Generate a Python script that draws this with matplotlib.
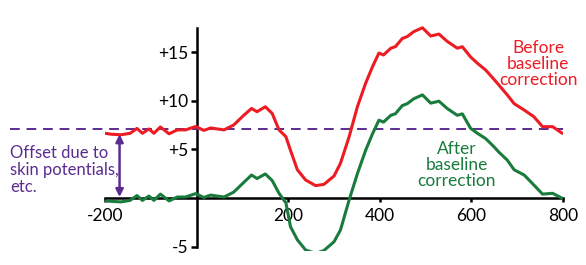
import matplotlib.pyplot as plt

# time (ms) and amplitude (uV)
time_ms = [-200, -185, -165, -145, -130, -118, -104, -93, -79, -60, -42, -24, -2, 16, 31,
           45, 60, 81, 103, 120, 132, 150, 165, 180, 195, 205, 220, 238, 260, 278, 300,
           314, 333, 351, 369, 384, 398, 408, 424, 434, 449, 460, 474, 493, 511, 529, 547,
           569, 580, 598, 613, 631, 649, 660, 678, 693, 715, 736, 755, 777, 798]
before = [6.65, 6.55, 6.5, 6.65, 7.15, 6.65, 7.1, 6.65, 7.3, 6.6, 7.0, 7.0, 7.35, 6.95, 7.2,
          7.1, 7.0, 7.5, 8.5, 9.2, 8.87, 9.38, 8.7, 7.0, 6.3, 4.9, 2.9, 1.85, 1.27, 1.4, 2.26,
          3.56, 6.3, 9.38, 11.8, 13.5, 14.9, 14.7, 15.4, 15.56, 16.4, 16.6, 17.1, 17.5, 16.65,
          16.85, 16.1, 15.4, 15.55, 14.5, 13.85, 13.15, 12.2, 11.6, 10.6, 9.7, 9.04, 8.36,
          7.33, 7.33, 6.65]
after = [-0.3, -0.35, -0.4, -0.25, 0.25, -0.25, 0.2, -0.25, 0.4, -0.3, 0.1, 0.1, 0.45, 0.05,
         0.3, 0.2, 0.1, 0.6, 1.6, 2.36, 2.0, 2.47, 1.8, 0.48, -0.5, -2.95, -4.3, -5.35, -5.7,
         -5.4, -4.5, -3.3, -0.2, 2.5, 4.9, 6.6, 8.0, 7.8, 8.5, 8.66, 9.5, 9.7, 10.2, 10.6,
         9.75, 9.95, 9.2, 8.5, 8.65, 7.16, 6.65, 6.1, 5.27, 4.7, 3.9, 2.9, 2.36, 1.34, 0.4,
         0.48, -0.03]
offset_level = 7.1
x_ticks = [-200, 200, 400, 600, 800]
y_ticks = [15, 10, 5, -5]
y_tick_labels = ['+15', '+10', '+5', '-5']

RED = '#ed1c24'
GREEN = '#197b3c'
PURPLE = '#5b2c8f'

plt.rcParams['font.family'] = ['Lato', 'DejaVu Sans']
plt.rcParams['axes.unicode_minus'] = False

fig = plt.figure(figsize=(5.86, 2.65), dpi=100)
ax = fig.add_axes([0.179, 0.051, 0.782, 0.8626])
ax.set_xlim(-200, 800)
ax.set_ylim(-5.5, 18)

ax.plot(time_ms, before, color=RED, lw=2.2, solid_capstyle='round',
        solid_joinstyle='round', zorder=3)
ax.plot(time_ms, after, color=GREEN, lw=2.2, solid_capstyle='round',
        solid_joinstyle='round', zorder=3)

# dashed offset level, runs out past the left of the axes
ax.plot([-406, 800], [offset_level, offset_level], color=PURPLE, lw=1.4,
        dashes=(5, 3.5), clip_on=False, zorder=2)

ax.annotate('', xy=(-168, 6.55), xytext=(-168, 0.1),
            arrowprops=dict(arrowstyle='<|-|>', color=PURPLE, lw=1.8,
                            mutation_scale=11, shrinkA=0, shrinkB=0))

for s in ['top', 'right']:
    ax.spines[s].set_visible(False)
ax.spines['left'].set_position(('data', 0))
ax.spines['bottom'].set_position(('data', 0))
ax.spines['left'].set_bounds(-5, 17.5)
ax.spines['bottom'].set_bounds(-200, 800)
for s in ['left', 'bottom']:
    ax.spines[s].set_linewidth(1.8)
    ax.spines[s].set_zorder(1)

ax.set_xticks(x_ticks)
ax.set_yticks(y_ticks)
ax.set_yticklabels(y_tick_labels)
ax.tick_params(axis='y', direction='out', length=4, width=1.8, pad=2, labelsize=12.5)
ax.tick_params(axis='x', direction='out', length=3, width=1.8, pad=4, labelsize=12.5)

fig.text(10 / 586, 1 - 170 / 265, 'Offset due to\nskin potentials,\netc.', color=PURPLE,
         fontsize=12, ha='left', va='center', linespacing=1.05)
fig.text(538 / 586, 1 - 64 / 265, 'Before\nbaseline\ncorrection', color=RED,
         fontsize=12.5, ha='center', va='center', linespacing=1.0)
fig.text(457 / 586, 1 - 165.5 / 265, 'After\nbaseline\ncorrection', color=GREEN,
         fontsize=12.5, ha='center', va='center', linespacing=1.0)

fig.savefig('out.png', dpi=100)
